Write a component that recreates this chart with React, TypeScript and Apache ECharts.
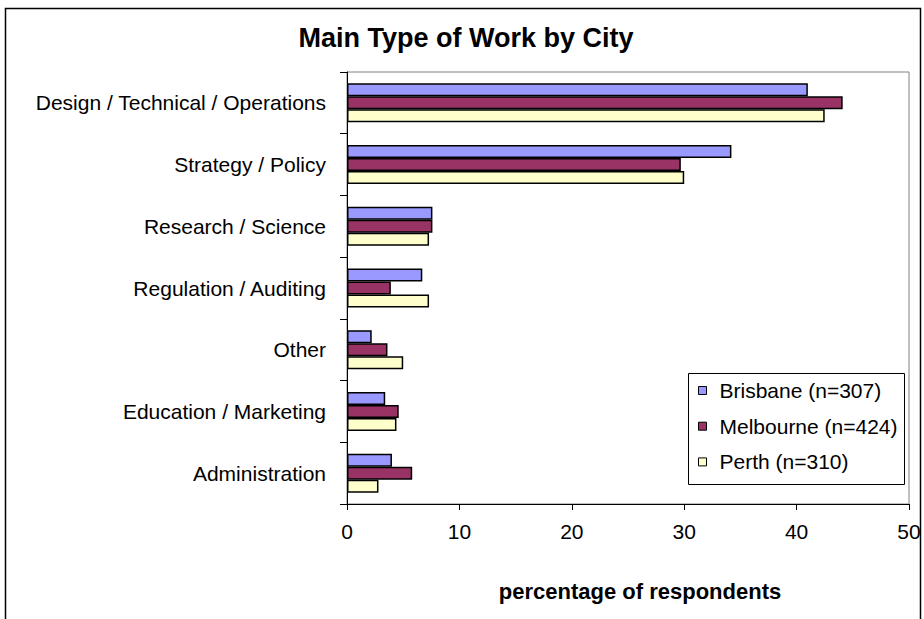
import React, { useEffect, useRef } from "react";
import * as echarts from "echarts";

const categories = [
  "Design / Technical / Operations",
  "Strategy / Policy",
  "Research / Science",
  "Regulation / Auditing",
  "Other",
  "Education / Marketing",
  "Administration",
];
const seriesNames = ["Brisbane (n=307)", "Melbourne (n=424)", "Perth (n=310)"];
const brisbane = [41.0, 34.2, 7.6, 6.7, 2.2, 3.4, 4.0];
const melbourne = [44.1, 29.7, 7.6, 3.9, 3.6, 4.6, 5.8];
const perth = [42.5, 30.0, 7.3, 7.3, 5.0, 4.4, 2.8];
const colors = ["#9999FF", "#993366", "#FFFFCC"];
const xTicks = { min: 0, max: 50, interval: 10 };
const titleText = "Main Type of Work by City";
const xAxisTitle = "percentage of respondents";

const FONT = "'Liberation Sans', Arial, Helvetica, sans-serif";

export default function App() {
  const ref = useRef<HTMLDivElement>(null);
  useEffect(() => {
    if (!ref.current) return;
    const chart = echarts.init(ref.current, undefined, { renderer: "svg" });
    const data = [brisbane, melbourne, perth];
    chart.setOption({
      animation: false,
      backgroundColor: "#ffffff",
      textStyle: { fontFamily: FONT },
      grid: {
        left: 347,
        right: 15,
        top: 72,
        bottom: 115,
        containLabel: false,
        show: true,
        borderColor: "#808080",
        borderWidth: 1,
        backgroundColor: "transparent",
      },
      xAxis: {
        type: "value",
        min: xTicks.min,
        max: xTicks.max,
        interval: xTicks.interval,
        splitLine: { show: false },
        axisLine: { show: true, lineStyle: { color: "#000", width: 1 } },
        axisTick: { show: true, length: 6, lineStyle: { color: "#000" } },
        axisLabel: { fontSize: 21, color: "#000", margin: 17, fontFamily: FONT },
      },
      yAxis: {
        type: "category",
        inverse: true,
        data: categories,
        axisLine: { show: true, lineStyle: { color: "#000", width: 1 } },
        axisTick: { show: true, length: 7, alignWithLabel: false, lineStyle: { color: "#000" } },
        axisLabel: { fontSize: 21, color: "#000", margin: 21, fontFamily: FONT },
      },
      legend: {
        orient: "vertical",
        left: 698,
        top: 380,
        padding: 0,
        itemGap: 14.7,
        itemWidth: 8,
        itemHeight: 8,
        icon: "rect",
        data: seriesNames,
        itemStyle: { borderColor: "#000", borderWidth: 1 },
        textStyle: { fontSize: 21, color: "#000", fontFamily: FONT, padding: [0, 0, 0, 8] },
        z: 10,
      },
      graphic: [
        {
          type: "rect",
          shape: { x: 5.5, y: 8.5, width: 915, height: 700 },
          style: { fill: "none", stroke: "#000", lineWidth: 1.5 },
          silent: true,
          z: 1,
        },
        {
          type: "rect",
          shape: { x: 688.5, y: 373.5, width: 216, height: 111 },
          style: { fill: "#fff", stroke: "#000", lineWidth: 1 },
          silent: true,
          z: 5,
        },
        {
          type: "text",
          x: 466,
          y: 38,
          style: {
            text: titleText,
            fontSize: 27,
            fontWeight: "bold",
            fontFamily: FONT,
            fill: "#000",
            textAlign: "center",
            textVerticalAlign: "middle",
          },
          z: 10,
        },
        {
          type: "text",
          x: 640,
          y: 591.5,
          style: {
            text: xAxisTitle,
            fontSize: 22,
            fontWeight: "bold",
            fontFamily: FONT,
            fill: "#000",
            textAlign: "center",
            textVerticalAlign: "middle",
          },
          z: 10,
        },
      ],
      series: seriesNames.map((name, i) => ({
        name,
        type: "bar",
        data: data[i],
        barWidth: 13,
        barGap: "0%",
        itemStyle: { color: colors[i], borderColor: "#000", borderWidth: 1.5 },
      })),
    });
    return () => chart.dispose();
  }, []);
  return (
    <div
      ref={ref}
      style={{ position: "fixed", left: 0, top: 0, width: 924, height: 619 }}
    />
  );
}
